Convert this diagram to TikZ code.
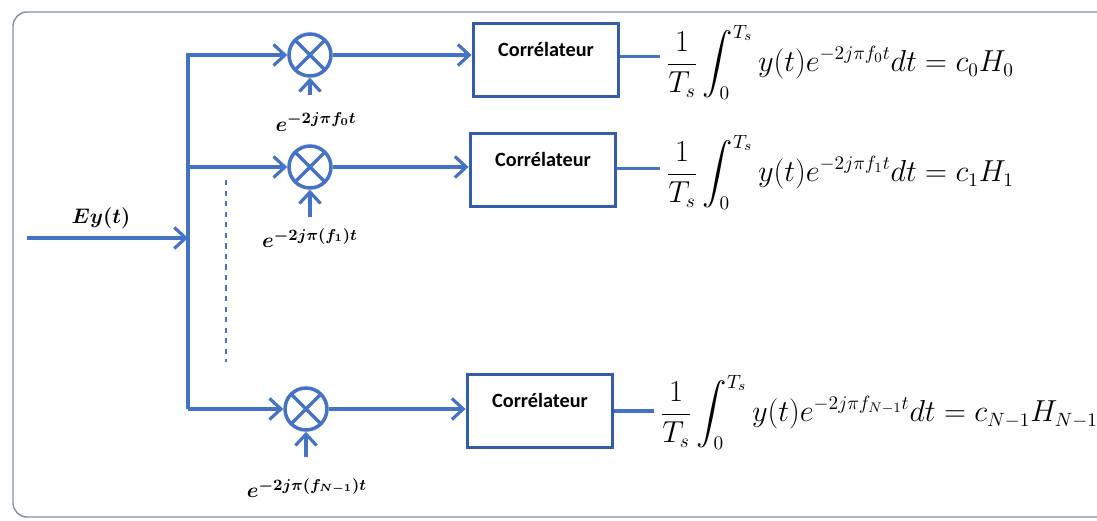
\documentclass[tikz,border=0pt]{standalone}
\usepackage{amsmath}
\usepackage{fontspec}
\newfontfamily\corrfont{Carlito}
\usetikzlibrary{arrows.meta}
\definecolor{lineblue}{RGB}{68,114,196}
\definecolor{boxblue}{RGB}{52,92,170}
\definecolor{framegray}{RGB}{130,145,170}
\tikzset{
  wire/.style={draw=lineblue, line width=1.9pt},
  sig/.style={wire, -{Straight Barb[length=6.5pt,width=12pt,line width=1.8pt]}},
  mult/.style={circle, draw=lineblue, line width=2pt, minimum size=0.84cm, inner sep=0pt,
    path picture={\draw[lineblue, line width=2pt] (path picture bounding box.center)
      +(45:0.42cm) -- +(225:0.42cm) +(135:0.42cm) -- +(-45:0.42cm);}},
  correl/.style={draw=boxblue, line width=2.2pt, minimum width=2.9cm, minimum height=1.46cm,
    inner sep=0pt, fill=white,
    label={[font=\corrfont\bfseries\fontsize{11.5}{13}\selectfont, yshift=6pt]center:Corrélateur}},
  osc/.style={font=\boldmath\fontsize{13}{15}\selectfont},
  result/.style={anchor=west, font=\fontsize{16}{19}\selectfont},
}
\begin{document}
\begin{tikzpicture}[x=0.02cm,y=-0.02cm]
\useasboundingbox (0,0) rectangle (1097,520);
\draw[framegray, line width=0.8pt, rounded corners=8pt] (1097,12) -- (13,12) -- (13,517) -- (1097,517);

\coordinate (in) at (27,238);
\coordinate (b0) at (188,55);
\coordinate (b2) at (188,409);
\node[osc] (ey) at (101,218) {$Ey(t)$};

\node[mult] (m1) at (310,55) {};
\node[mult] (m2) at (310,167) {};
\node[mult] (m3) at (306,409) {};
\node[osc] (l1) at (316,122) {$e^{-2j\pi f_0t}$};
\node[osc] (l2) at (310,238) {$e^{-2j\pi(f_1)t}$};
\node[osc] (l3) at (307,488) {$e^{-2j\pi(f_{N-1})t}$};
\coordinate (s1) at (310,95);
\coordinate (s2) at (310,217);
\coordinate (s3) at (306,457);

\node[correl] (c1) at (546,60) {};
\node[correl] (c2) at (543,170) {};
\node[correl] (c3) at (540,411) {};

\node[result] (r1) at (660,62) {$\displaystyle\frac{1}{T_s}\int_0^{T_s}y(t)e^{-2j\pi f_0t}dt=c_0H_0$};
\node[result] (r2) at (660,172) {$\displaystyle\frac{1}{T_s}\int_0^{T_s}y(t)e^{-2j\pi f_1t}dt=c_1H_1$};
\node[result] (r3) at (654,412) {$\displaystyle\frac{1}{T_s}\int_0^{T_s}y(t)e^{-2j\pi f_{N-1}t}dt=c_{N-1}H_{N-1}$};

\draw[sig] (in) -- (in -| b0);
\draw[sig] (b2) -- (b0) -- (m1.west);
\draw[sig] (b0 |- m2) -- (m2.west);
\draw[sig] (b2) -- (m3.west);
\draw[lineblue, line width=0.7pt, dashed] (226,180) -- (226,362);

\draw[sig] (s1) -- (m1.south);
\draw[sig] (s2) -- (m2.south);
\draw[sig] (s3) -- (m3.south);

\draw[sig] (m1.east) -- (m1.east -| c1.west);
\draw[sig] (m2.east) -- (m2.east -| c2.west);
\draw[sig] (m3.east) -- (m3.east -| c3.west);

\draw[wire] ([yshift=2pt]c1.east) -- ([yshift=2pt]c1.east -| r1.west);
\draw[wire] ([yshift=1pt]c2.east) -- ([yshift=1pt]c2.east -| r2.west);
\draw[wire] (c3.east) -- (c3.east -| r3.west);
\end{tikzpicture}
\end{document}
